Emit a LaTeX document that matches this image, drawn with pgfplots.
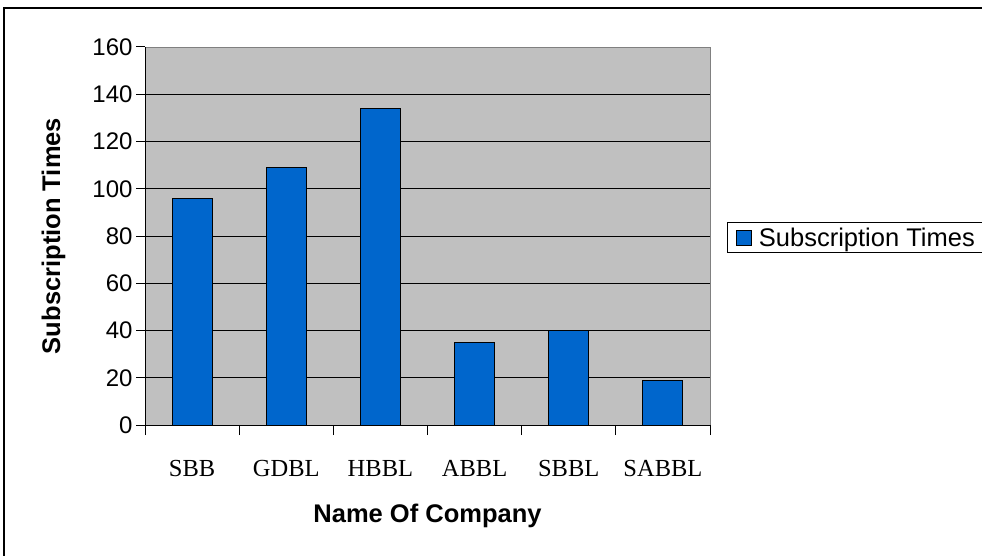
\documentclass[border=0pt]{standalone}
\usepackage{fontspec}
\setmainfont{Liberation Sans}
\newfontfamily\timesfont{Liberation Serif}
\usepackage{pgfplots}
\pgfplotsset{compat=1.18}
\definecolor{barblue}{RGB}{0,102,204}
\definecolor{plotgray}{RGB}{192,192,192}
\begin{document}
\begin{tikzpicture}[x=1pt,y=1pt]
\useasboundingbox (0,0) rectangle (982,555);
\draw[line width=1.5pt] (4,-10) rectangle (1000,547);
\begin{axis}[
  at={(145pt,130pt)}, anchor=south west,
  scale only axis, width=565pt, height=378pt,
  xmin=0.5, xmax=6.5, ymin=0, ymax=160,
  axis x line*=bottom, axis y line*=left,
  axis line style={-, black, line width=1pt},
  axis background/.style={fill=plotgray, draw=gray},
  ytick={0,20,...,160},
  xtick={1,...,6},
  xticklabels={SBB,GDBL,HBBL,ABBL,SBBL,SABBL},
  minor xtick={0.5,1.5,...,6.5},
  tick align=outside,
  major x tick style={draw=none},
  major tick length=9pt,
  minor tick length=10pt,
  tick style={black, line width=1pt},
  extra y ticks={20,40,...,140},
  extra y tick labels={},
  extra y tick style={grid=major, major tick length=0pt},
  grid style={black, line width=1pt},
  /pgf/number format/assume math mode=true,
  yticklabel style={font=\fontsize{24}{28}\selectfont},
  xticklabel style={font=\timesfont\fontsize{24.5}{28}\selectfont, anchor=base, yshift=-42pt},
  ylabel={\bfseries Subscription Times},
  xlabel={\bfseries Name Of Company},
  label style={font=\fontsize{25.5}{30}\selectfont},
  ylabel style={at={(axis description cs:-0.162,0.5)}, anchor=center},
  xlabel style={at={(axis description cs:0.5,-0.24)}, anchor=center},
  legend style={at={(axis description cs:1.030,0.495)}, anchor=west,
    draw=black, line width=1pt, fill=white, font=\fontsize{25.5}{30}\selectfont,
    inner xsep=9pt, inner ysep=3pt},
  legend image code/.code={\draw[fill=barblue,draw=black,line width=1pt] (0pt,-7.5pt) rectangle (15pt,7.5pt); \path[draw=none,fill=none] (0pt,0pt) -- (20pt,0pt);},
]
\addplot[ybar, bar width=40pt, fill=barblue, draw=black, line width=1pt]
  coordinates {(1,96) (2,109) (3,134) (4,35) (5,40) (6,19)};
\addlegendentry{Subscription Times}
\end{axis}
\end{tikzpicture}
\end{document}
